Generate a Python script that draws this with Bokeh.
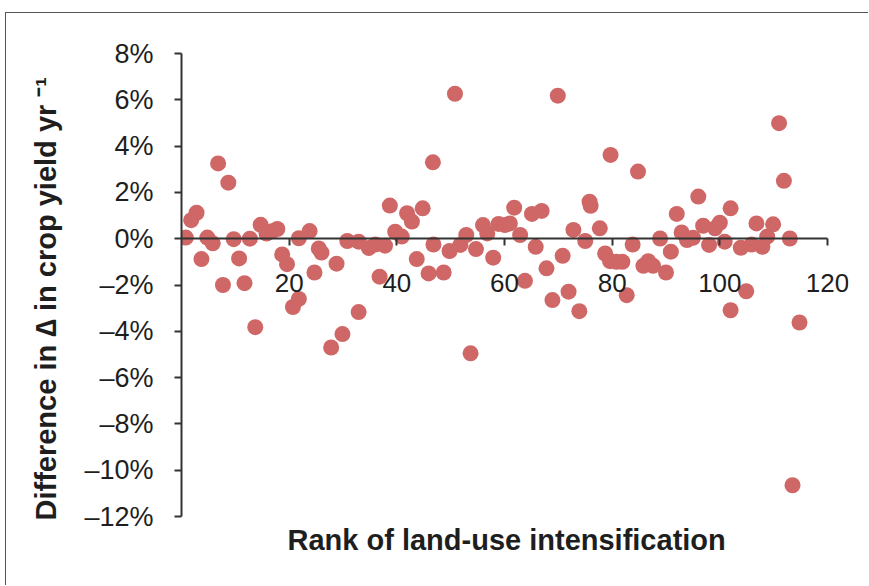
from bokeh.plotting import figure
from bokeh.models import FixedTicker, CustomJSTickFormatter, Range1d, Title
from bokeh.embed import file_html
from bokeh.resources import INLINE

# Data
rank = [0.8, 1.8, 2.8, 3.7, 4.8, 5.8, 6.8, 7.7, 8.7, 9.7,
        10.7, 11.7, 12.7, 13.7, 14.7, 15.8, 16.8, 17.8, 18.7, 19.6,
        20.7, 21.8, 21.8, 23.8, 24.7, 25.5, 26.0, 27.8, 28.8, 29.9,
        30.8, 32.9, 32.9, 34.8, 36.0, 36.8, 37.8, 38.7, 39.7, 40.9,
        41.9, 42.8, 43.7, 44.8, 45.9, 46.7, 46.8, 48.7, 49.8, 50.8,
        51.8, 52.9, 53.7, 54.7, 56.0, 56.8, 57.9, 58.9, 60.1, 61.0,
        61.8, 62.9, 63.8, 65.1, 65.8, 66.9, 67.8, 68.9, 69.9, 70.8,
        71.9, 72.8, 73.9, 75.0, 75.8, 76.0, 77.7, 78.7, 79.6, 79.7,
        80.8, 81.9, 82.7, 83.8, 84.8, 85.8, 86.7, 87.6, 88.9, 90.0,
        90.9, 92.0, 92.9, 93.9, 95.0, 96.0, 96.9, 98.0, 99.1, 100.0,
        100.9, 102.0, 102.0, 103.9, 104.9, 105.9, 106.8, 107.9, 108.8, 109.9,
        111.0, 111.9, 113.0, 113.5, 114.8]
diff_pct = [0.05, 0.8, 1.12, -0.88, 0.05, -0.2, 3.25, -2.0, 2.42, -0.02,
            -0.85, -1.92, 0.0, -3.82, 0.6, 0.22, 0.32, 0.42, -0.68, -1.1,
            -2.95, -2.6, 0.02, 0.33, -1.46, -0.42, -0.6, -4.7, -1.08, -4.12,
            -0.1, -3.17, -0.13, -0.4, -0.25, -1.64, -0.3, 1.43, 0.3, 0.09,
            1.1, 0.74, -0.88, 1.31, -1.5, 3.3, -0.25, -1.46, -0.53, 6.26,
            -0.27, 0.16, -4.95, -0.45, 0.59, 0.23, -0.82, 0.64, 0.59, 0.66,
            1.34, 0.16, -1.82, 1.07, -0.35, 1.2, -1.28, -2.65, 6.18, -0.74,
            -2.29, 0.38, -3.13, -0.1, 1.6, 1.42, 0.45, -0.64, -0.97, 3.62,
            -1.0, -1.0, -2.44, -0.25, 2.9, -1.17, -0.97, -1.17, 0.01, -1.46,
            -0.56, 1.07, 0.27, -0.06, 0.04, 1.82, 0.56, -0.27, 0.45, 0.69,
            -0.13, 1.31, -3.09, -0.39, -2.27, -0.25, 0.66, -0.35, 0.09, 0.62,
            4.99, 2.5, 0.01, -10.65, -3.62]

x_ticks = [20, 40, 60, 80, 100, 120]
y_ticks = [-12, -10, -8, -6, -4, -2, 0, 2, 4, 6, 8]

x_title = "Rank of land-use intensification"
y_title = "Difference in \u2206 in crop yield yr \u207b\u00b9"

FONT = "Liberation Sans"
TXT = "#1e1e1e"
AX = "#333333"

p = figure(width=863, height=573, output_backend="svg", toolbar_location=None,
           x_range=Range1d(0, 123.9), y_range=Range1d(-12, 8),
           min_border_left=175, min_border_right=21,
           min_border_top=40, min_border_bottom=70)
p.styles = {"border-left": "1px solid #555555", "border-top": "1px solid #555555",
            "margin-left": "5px", "margin-top": "12px"}
p.outline_line_color = None
p.grid.visible = False
p.background_fill_color = "white"
p.border_fill_color = None

p.scatter(rank, diff_pct, size=16, color="#cf6767", line_color=None)

xa = p.xaxis[0]
xa.fixed_location = 0
xa.bounds = (0, 120)
xa.ticker = FixedTicker(ticks=x_ticks)
xa.minor_tick_line_color = None
xa.major_tick_in = 0
xa.major_tick_out = 7
xa.major_label_standoff = 28
xa.axis_line_color = AX
xa.axis_line_width = 2
xa.major_tick_line_color = AX
xa.major_tick_line_width = 2
xa.major_label_text_font = FONT
xa.major_label_text_font_size = "26px"
xa.major_label_text_color = TXT

ya = p.yaxis[0]
ya.ticker = FixedTicker(ticks=y_ticks)
ya.formatter = CustomJSTickFormatter(code="return (tick < 0 ? '\\u2013' : '') + Math.abs(tick) + '%';")
ya.minor_tick_line_color = None
ya.major_tick_in = 0
ya.major_tick_out = 7
ya.major_label_standoff = 21
ya.axis_line_color = AX
ya.axis_line_width = 2
ya.major_tick_line_color = AX
ya.major_tick_line_width = 2
ya.major_label_text_font = FONT
ya.major_label_text_font_size = "27px"
ya.major_label_text_color = TXT

p.add_layout(Title(text=y_title, align="left", offset=-4, standoff=40,
                   text_font=FONT, text_font_size="29px", text_font_style="bold",
                   text_color=TXT), "left")
p.add_layout(Title(text=x_title, align="left", offset=106, standoff=10,
                   text_font=FONT, text_font_size="29px", text_font_style="bold",
                   text_color=TXT), "below")

open("out.html", "w").write(file_html(p, INLINE))
